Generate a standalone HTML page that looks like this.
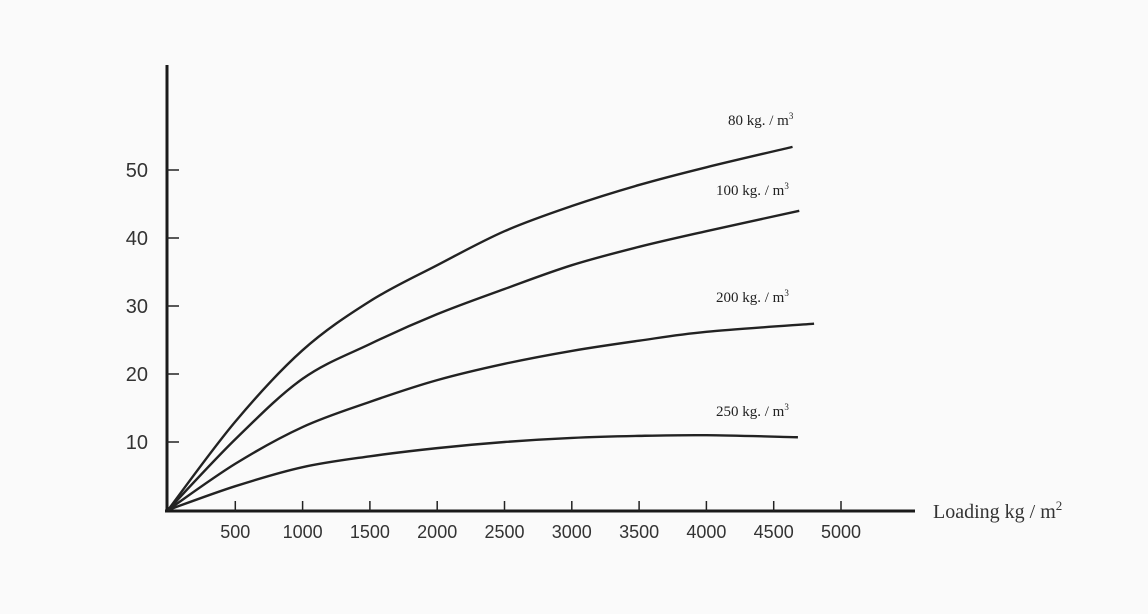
<!DOCTYPE html>
<html><head><meta charset="utf-8"><style>
body{margin:0;background:#fafafa;}
svg{display:block;}
.t{font-family:"Liberation Sans",sans-serif;font-size:18px;fill:#333;}
.l{font-family:"Liberation Serif",serif;font-size:15px;fill:#222;}
</style></head><body>
<svg id="chart" width="1148" height="614" viewBox="0 0 1148 614">
<rect width="1148" height="614" fill="#fafafa"/>
<g id="axes"></g>
<g id="series"></g>
</svg>
<script>
const xTicks=[500,1000,1500,2000,2500,3000,3500,4000,4500,5000];
const yTicks=[10,20,30,40,50];
const loads=[0,500,1000,1500,2000,2500,3000,3500,4000];
const s80=[0,13,23.5,30.7,36,41,44.7,47.8,50.4];
const s100=[0,10.4,19.3,24.4,28.8,32.5,36,38.7,41];
const s200=[0,6.8,12.2,15.9,19.1,21.5,23.4,24.9,26.2];
const s250=[0,3.5,6.3,7.9,9.1,10,10.6,10.9,11];
const endX=[4640,4690,4800,4680];
const endY=[53.4,44,27.4,10.7];
const seriesNames=["80 kg. / m","100 kg. / m","200 kg. / m","250 kg. / m"];
const labelPos=[[728,125],[716,195],[716,302],[716,416]];
const NS="http://www.w3.org/2000/svg";
const X=v=>168+v*67.3/500, Y=v=>510-v*6.8;
function mk(tag,at,p){const e=document.createElementNS(NS,tag);for(const k in at)e.setAttribute(k,at[k]);p.appendChild(e);return e;}
const ax=document.getElementById('axes');
let e=mk('line',{x1:167,y1:65,x2:167,y2:512,stroke:'#1a1a1a','stroke-width':3},ax);

e=mk('line',{x1:165,y1:511,x2:915,y2:511,stroke:'#1a1a1a','stroke-width':3},ax);

xTicks.forEach(v=>{
 let t=mk('line',{x1:X(v),y1:511,x2:X(v),y2:501,stroke:'#222','stroke-width':1.5},ax);
 
 let tx=mk('text',{x:X(v),y:538,'text-anchor':'middle',class:'t'},ax);tx.textContent=v;
 
});
yTicks.forEach(v=>{
 let t=mk('line',{x1:167,y1:Y(v),x2:179,y2:Y(v),stroke:'#222','stroke-width':1.5},ax);
 
 let tx=mk('text',{x:148,y:Y(v)+7,'text-anchor':'end',class:'t',style:'font-size:20px'},ax);tx.textContent=v;
 
});
let xt=mk('text',{x:933,y:518,class:'t',style:'font-size:20px;font-family:Liberation Serif,serif'},ax);
xt.innerHTML='Loading kg / m<tspan dy="-8" font-size="13">2</tspan>';

const sg=document.getElementById('series');
[s80,s100,s200,s250].forEach((s,i)=>{
 const pts=loads.map((l,j)=>[X(l),Y(s[j])]);pts.push([X(endX[i]),Y(endY[i])]);
 let d='M'+pts[0][0]+','+pts[0][1];
 for(let k=0;k<pts.length-1;k++){
  const p0=pts[Math.max(0,k-1)],p1=pts[k],p2=pts[k+1],p3=pts[Math.min(pts.length-1,k+2)];
  const c1=[p1[0]+(p2[0]-p0[0])/6,p1[1]+(p2[1]-p0[1])/6],c2=[p2[0]-(p3[0]-p1[0])/6,p2[1]-(p3[1]-p1[1])/6];
  d+=` C${c1[0]},${c1[1]} ${c2[0]},${c2[1]} ${p2[0]},${p2[1]}`;
 }
 let p=mk('path',{d:d,fill:'none',stroke:'#222','stroke-width':2.4},sg);
 
 let tx=mk('text',{x:labelPos[i][0],y:labelPos[i][1],class:'l'},sg);
 tx.innerHTML=seriesNames[i]+'<tspan dy="-6" font-size="9">3</tspan>';
 
});
</script>
</body></html>
